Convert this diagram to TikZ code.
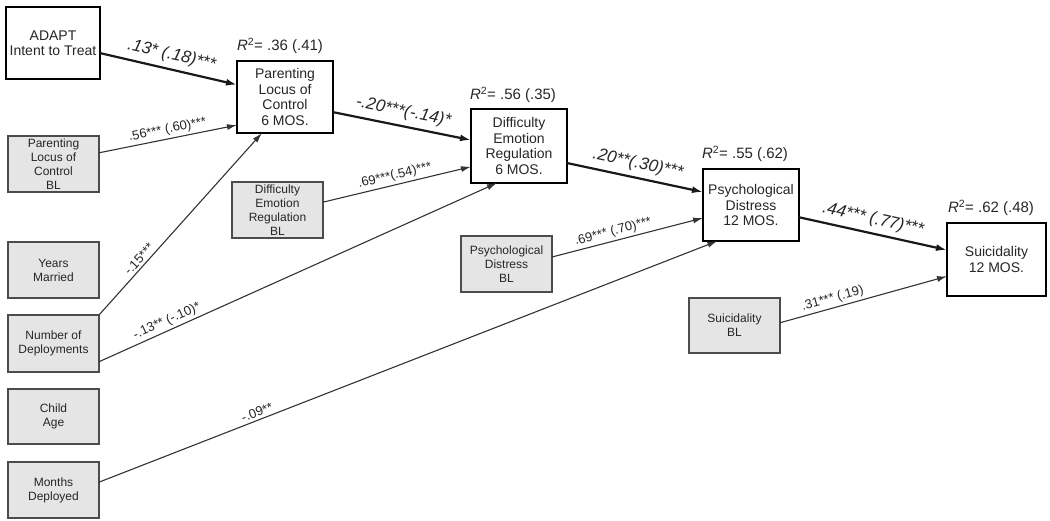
\documentclass[tikz,border=0pt]{standalone}
\usepackage{fontspec}
\setmainfont{Liberation Sans}
\usetikzlibrary{arrows.meta,calc}
\begin{document}
\begin{tikzpicture}[x=1pt,y=-1pt,
  mainbox/.style={draw=black, line width=2.6pt, fill=white, align=center, inner sep=0pt, outer sep=0pt, anchor=north west, minimum width=96pt, minimum height=72pt, font=\fontsize{14}{15.5}\selectfont, text=black!85},
  blbox/.style={draw=black!70, line width=1.2pt, fill=black!10, align=center, inner sep=0pt, outer sep=0pt, anchor=north west, minimum width=91pt, minimum height=56pt, font=\fontsize{12}{14}\selectfont, text=black!85},
  patha/.style={draw=black!90, line width=2.2pt, -{Latex[length=11pt,width=7pt]}},
  pathb/.style={draw=black!80, line width=1.1pt, -{Latex[length=10pt,width=6pt]}},
  lbla/.style={sloped, above=4pt, inner sep=1pt, font=\fontsize{17}{18}\selectfont\itshape, text=black!85},
  lblb/.style={sloped, above=1.5pt, inner sep=1pt, font=\fontsize{13}{14}\selectfont, text=black!85},
  rsq/.style={inner sep=0pt, font=\fontsize{15}{16}\selectfont, text=black!85}
]
\useasboundingbox (0,0) rectangle (1050,520);
% main boxes
\node[mainbox, minimum width=94pt] (adapt) at (6,7) {ADAPT\\Intent to Treat};
\node[mainbox] (ploc) at (237,61) {Parenting\\Locus of\\Control\\6 MOS.};
\node[mainbox, minimum height=74pt] (der) at (471,109) {Difficulty\\Emotion\\Regulation\\6 MOS.};
\node[mainbox] (pd) at (703,169) {Psychological\\Distress\\12 MOS.};
\node[mainbox, minimum width=99pt, minimum height=73pt] (suic) at (947,223) {Suicidality\\12 MOS.};
% R2 labels
\node[rsq] (r2a) at (280,46) {\textit{R}\textsuperscript{2}= .36 (.41)};
\node[rsq] (r2b) at (513,95) {\textit{R}\textsuperscript{2}= .56 (.35)};
\node[rsq] (r2c) at (745,154) {\textit{R}\textsuperscript{2}= .55 (.62)};
\node[rsq] (r2d) at (991,208) {\textit{R}\textsuperscript{2}= .62 (.48)};
% baseline boxes
\node[blbox] (plocbl) at (8,136) {Parenting\\Locus of\\Control\\BL};
\node[blbox] (ym) at (8,242) {Years\\Married};
\node[blbox, minimum height=57pt] (nd) at (8,315) {Number of\\Deployments};
\node[blbox, minimum height=55pt] (ca) at (8,389) {Child\\Age};
\node[blbox] (md) at (8,462) {Months\\Deployed};
\node[blbox] (derbl) at (232,182) {Difficulty\\Emotion\\Regulation\\BL};
\node[blbox] (pdbl) at (461,236) {Psychological\\Distress\\BL};
\node[blbox, minimum height=55pt] (suicbl) at (689,298) {Suicidality\\BL};
% thick paths
\draw[patha] ($(adapt.north east)!0.64!(adapt.south east)$) -- node[lbla, pos=.5] {.13* (.18)***} ($(ploc.north west)!0.33!(ploc.south west)$);
\draw[patha] ($(ploc.north east)!0.71!(ploc.south east)$) -- node[lbla, pos=.49] {-.20***(-.14)*} ($(der.north west)!0.42!(der.south west)$);
\draw[patha] ($(der.north east)!0.73!(der.south east)$) -- node[lbla, pos=.5] {.20**(.30)***} ($(pd.north west)!0.32!(pd.south west)$);
\draw[patha] ($(pd.north east)!0.67!(pd.south east)$) -- node[lbla, pos=.48] {.44*** (.77)***} ($(suic.north west)!0.37!(suic.south west)$);
% thin paths
\draw[pathb] ($(plocbl.north east)!0.30!(plocbl.south east)$) -- node[lblb, pos=.51] {.56*** (.60)***} ($(ploc.north west)!0.89!(ploc.south west)$);
\draw[pathb] (nd.north east) -- node[lblb, pos=.28] {-.15***} ($(ploc.south west)!0.26!(ploc.south east)$);
\draw[pathb] ($(nd.north east)!0.82!(nd.south east)$) -- node[lblb, pos=.18] {-.13** (-.10)*} ($(der.south west)!0.27!(der.south east)$);
\draw[pathb] ($(derbl.north east)!0.36!(derbl.south east)$) -- node[lblb, pos=.5] {.69***(.54)***} ($(der.north west)!0.78!(der.south west)$);
\draw[pathb] ($(pdbl.north east)!0.375!(pdbl.south east)$) -- node[lblb, pos=.42] {.69*** (.70)***} ($(pd.north west)!0.68!(pd.south west)$);
\draw[pathb] ($(md.north east)!0.36!(md.south east)$) -- node[lblb, pos=.26] {-.09**} ($(pd.south west)!0.15!(pd.south east)$);
\draw[pathb] ($(suicbl.north east)!0.45!(suicbl.south east)$) -- node[lblb, pos=.33] {.31*** (.19)} ($(suic.north west)!0.73!(suic.south west)$);
\end{tikzpicture}
\end{document}
